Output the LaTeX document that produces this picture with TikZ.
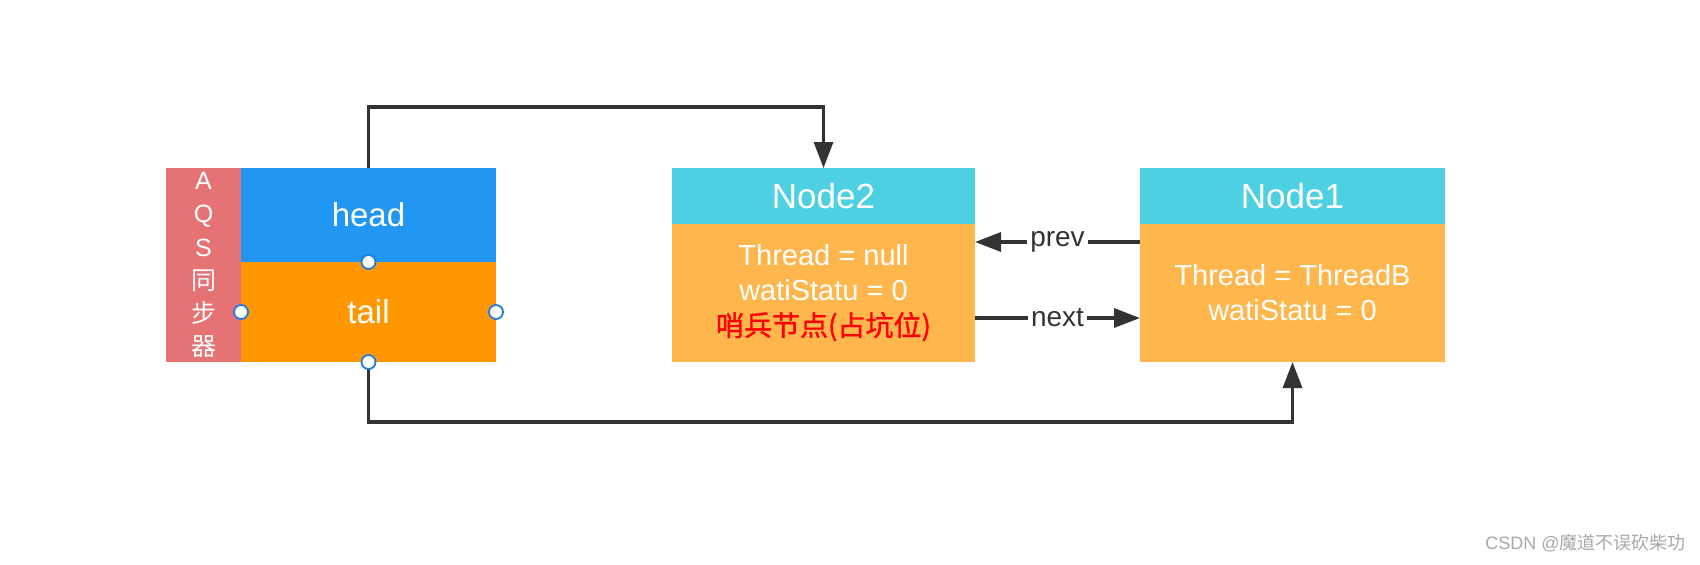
\documentclass[tikz,border=0pt]{standalone}
\usepackage{fontspec}
\setmainfont{Liberation Sans}
\newfontfamily\cjk{Noto Sans CJK SC}
\newfontfamily\cjkbold[FakeBold=1.2]{Noto Sans CJK SC}
\usetikzlibrary{arrows.meta}
\usetikzlibrary{positioning}
\definecolor{aqsred}{HTML}{E57373}
\definecolor{headblue}{HTML}{2196F3}
\definecolor{tailorange}{HTML}{FF9800}
\definecolor{nodecyan}{HTML}{4DD0E1}
\definecolor{nodebody}{HTML}{FFB74D}
\definecolor{linkgray}{HTML}{333333}
\definecolor{handleblue}{HTML}{1E7BE6}
\definecolor{markgray}{HTML}{A8A8A8}
\tikzset{
  cell/.style={inner sep=0, outer sep=0, text=white, align=center},
  link/.style={draw=linkgray, line width=1.6pt, -{Triangle[length=13pt,width=9.5pt]}},
  handle/.style={draw=handleblue, fill=white, line width=0.9pt},
  linklabel/.style={fill=white, inner sep=1.5pt, text=linkgray, font=\fontsize{14}{16}\selectfont}
}

\begin{document}
\begin{tikzpicture}[x=0.5pt, y=-0.5pt]
\useasboundingbox (0,0) rectangle (1700,564);
\node[cell, fill=headblue, minimum width=127.5pt, minimum height=47pt, font=\fontsize{16.5}{19}\selectfont] (head) at (368.5,215) {head};
\node[cell, fill=tailorange, minimum width=127.5pt, minimum height=50pt, font=\fontsize{16.5}{19}\selectfont, below=0pt of head] (tail) {tail};
\node[cell, fill=aqsred, minimum width=37.5pt, minimum height=97pt, anchor=north east, font=\fontsize{12.5}{16.6}\selectfont] (aqs) at (head.north west) {A\\Q\\S\\{\cjk 同}\\{\cjk 步}\\{\cjk 器}};

\node[cell, fill=nodecyan, minimum width=151.5pt, minimum height=28pt, font=\fontsize{17.5}{20}\selectfont] (n2head) at (823.5,196) {Node2};
\node[cell, fill=nodebody, minimum width=151.5pt, minimum height=69pt, font=\fontsize{14.5}{17.5}\selectfont, below=0pt of n2head] (n2body) {Thread = null\\watiStatu = 0\\{\cjkbold\fontsize{14}{17.5}\selectfont\color{red}哨兵节点(占坑位)}};

\node[cell, fill=nodecyan, minimum width=152.5pt, minimum height=28pt, font=\fontsize{17.5}{20}\selectfont] (n1head) at (1292.5,196) {Node1};
\node[cell, fill=nodebody, minimum width=152.5pt, minimum height=69pt, font=\fontsize{14.5}{17.5}\selectfont, below=0pt of n1head] (n1body) {Thread = ThreadB\\watiStatu = 0};

\draw[link] (head.north) -- ++(0,-61) -| (n2head.north);
\draw[link] (tail.south) -- ++(0,60) -| (n1body.south);
\draw[link] ([yshift=25.5pt]n1body.east -| n1body.west) -- node[linklabel] {prev} ([yshift=25.5pt]n2body.east);
\draw[link] ([yshift=-12.5pt]n2body.east) -- node[linklabel] {next} ([yshift=-12.5pt]n2body.east -| n1body.west);

\foreach \p in {head.south, tail.west, tail.east, tail.south}
  \draw[handle] (\p) circle[radius=3.5pt];

\node[anchor=east, text=markgray, inner sep=0, font=\fontsize{9}{11}\selectfont] (mark) at (1686,543) {CSDN @{\cjk 魔道不误砍柴功}};
\end{tikzpicture}
\end{document}
